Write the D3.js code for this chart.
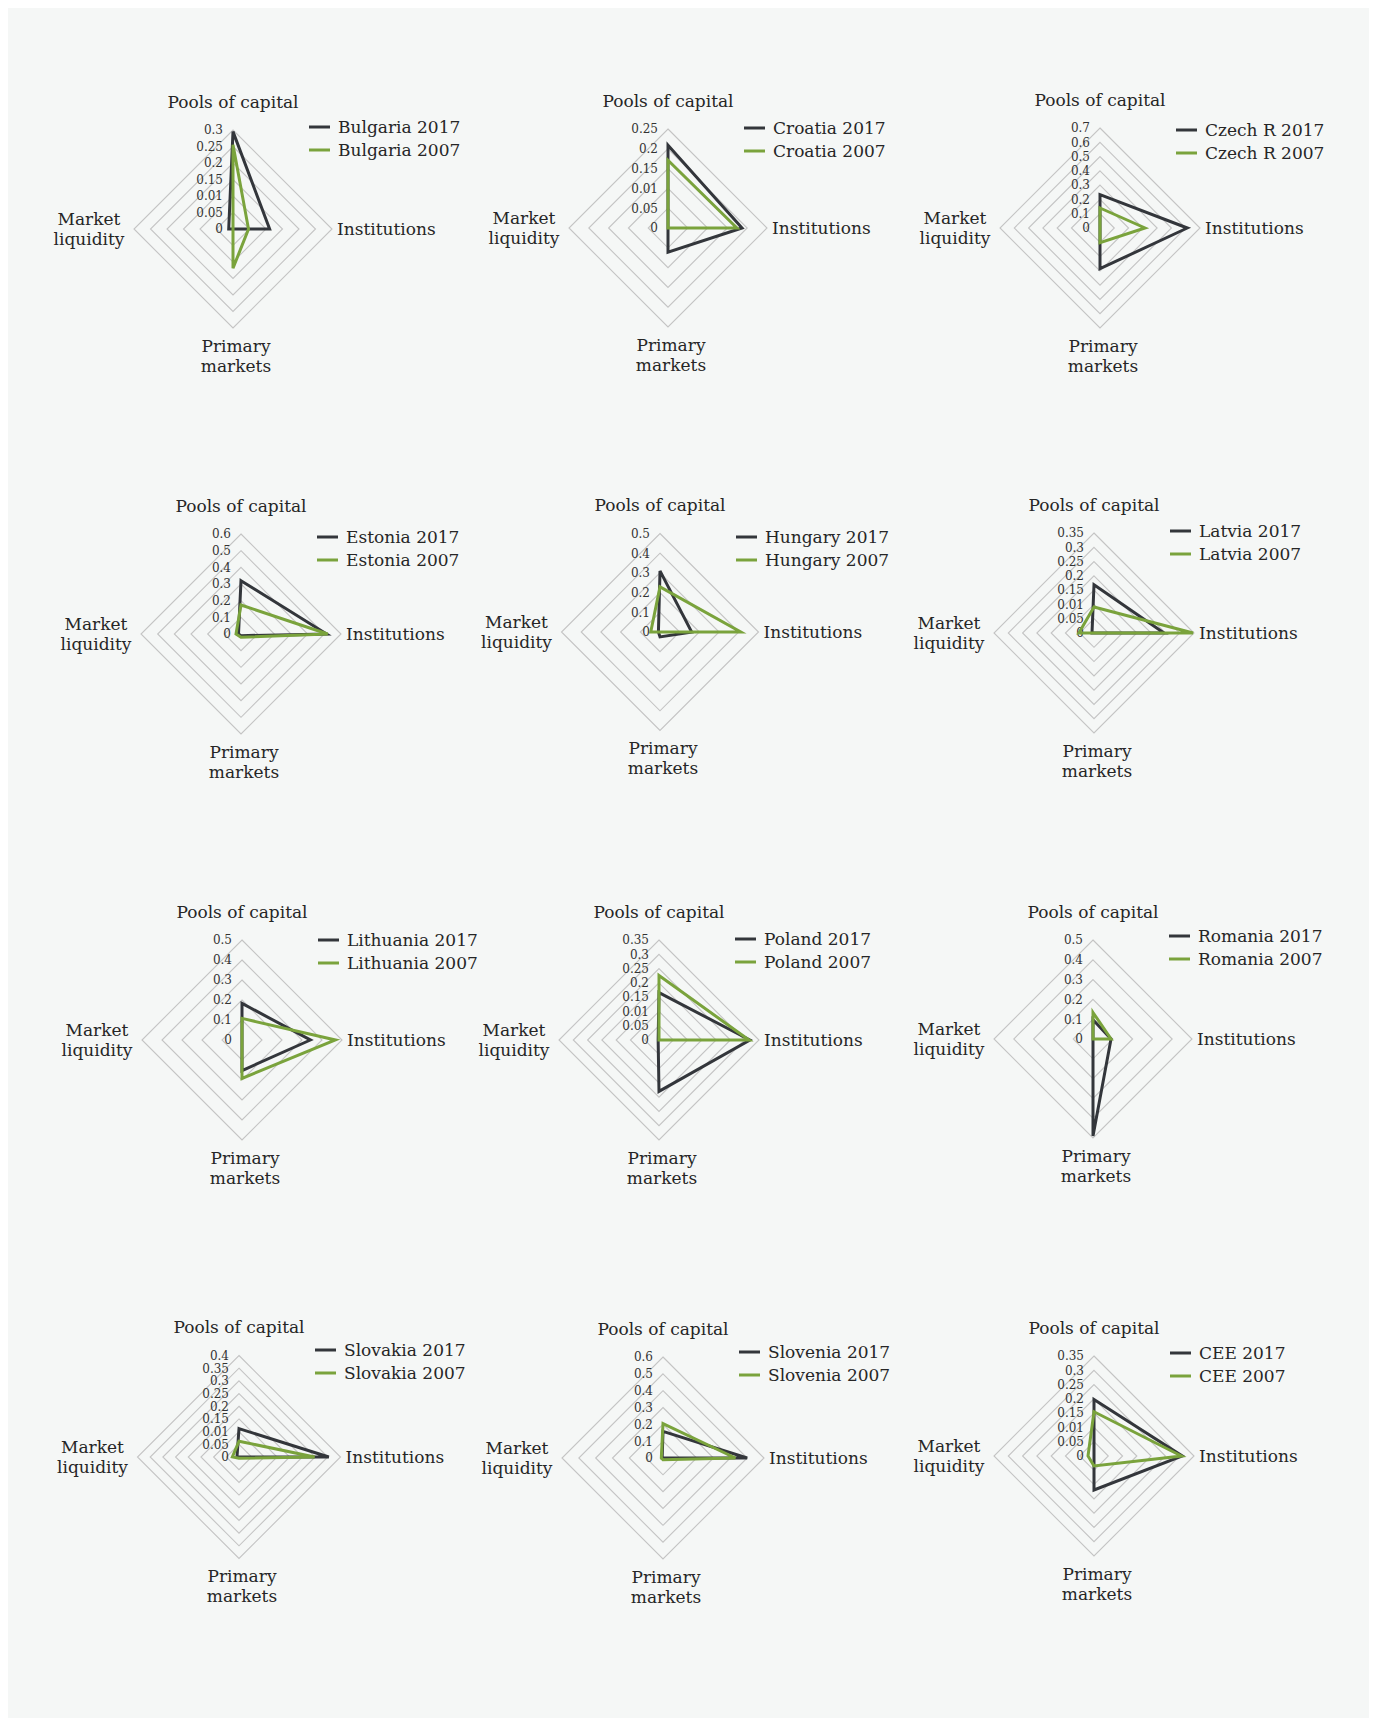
<!DOCTYPE html>
<html>
<head>
<meta charset="utf-8">
<script src="https://cdn.jsdelivr.net/npm/d3@7"></script>
<style>
  html, body { margin: 0; padding: 0; background: #ffffff; }
  svg { display: block; }
</style>
</head>
<body>
<script>
// ---------------- DATA ----------------
const categories = ["Pools of capital", "Institutions", "Primary markets", "Market liquidity"];
const countries = ["Bulgaria", "Croatia", "Czech R", "Estonia", "Hungary", "Latvia",
                   "Lithuania", "Poland", "Romania", "Slovakia", "Slovenia", "CEE"];
const seriesYears = ["2017", "2007"];

// values per country, in category order: Pools, Institutions, Primary, Market liquidity
const values2017 = [
  [0.295, 0.111, 0.000, 0.013],
  [0.209, 0.187, 0.061, 0.000],
  [0.233, 0.611, 0.285, 0.000],
  [0.320, 0.514, 0.010, 0.015],
  [0.310, 0.161, 0.025, 0.008],
  [0.169, 0.245, 0.000, 0.007],
  [0.183, 0.342, 0.153, 0.000],
  [0.166, 0.318, 0.180, 0.003],
  [0.097, 0.091, 0.490, 0.000],
  [0.112, 0.354, 0.000, 0.008],
  [0.158, 0.500, 0.000, 0.005],
  [0.198, 0.309, 0.119, 0.000]
];
const values2007 = [
  [0.255, 0.047, 0.119, 0.000],
  [0.171, 0.174, 0.000, 0.000],
  [0.140, 0.315, 0.103, 0.000],
  [0.174, 0.520, 0.020, 0.030],
  [0.229, 0.410, 0.000, 0.047],
  [0.091, 0.347, 0.000, 0.053],
  [0.108, 0.467, 0.192, 0.000],
  [0.226, 0.315, 0.000, 0.000],
  [0.134, 0.091, 0.000, 0.000],
  [0.062, 0.298, 0.005, 0.026],
  [0.204, 0.430, 0.010, 0.010],
  [0.155, 0.306, 0.035, 0.021]
];
const axisMax = [0.3, 0.25, 0.7, 0.6, 0.5, 0.35, 0.5, 0.35, 0.5, 0.4, 0.6, 0.35];
const tickLabels = [
  ["0", "0.05", "0.01", "0.15", "0.2", "0.25", "0.3"],
  ["0", "0.05", "0.01", "0.15", "0.2", "0.25"],
  ["0", "0.1", "0.2", "0.3", "0.4", "0.5", "0.6", "0.7"],
  ["0", "0.1", "0.2", "0.3", "0.4", "0.5", "0.6"],
  ["0", "0.1", "0.2", "0.3", "0.4", "0.5"],
  ["0", "0.05", "0.01", "0.15", "0.2", "0.25", "0.3", "0.35"],
  ["0", "0.1", "0.2", "0.3", "0.4", "0.5"],
  ["0", "0.05", "0.01", "0.15", "0.2", "0.25", "0.3", "0.35"],
  ["0", "0.1", "0.2", "0.3", "0.4", "0.5"],
  ["0", "0.05", "0.01", "0.15", "0.2", "0.25", "0.3", "0.35", "0.4"],
  ["0", "0.1", "0.2", "0.3", "0.4", "0.5", "0.6"],
  ["0", "0.05", "0.01", "0.15", "0.2", "0.25", "0.3", "0.35"]
];

// ---------------- LAYOUT ----------------
const W = 1377, H = 1726;
const panelCX = [233, 668, 1100, 241, 660, 1094, 242, 659, 1093, 239, 663, 1094];
const panelCY = [229, 228, 228, 634, 632, 633, 1040, 1040, 1039, 1457, 1458, 1456];
const panelR  = [99, 99, 100, 100, 98.5, 100, 100, 100, 99, 101.5, 101, 100];
const legendDY = [-102, -100, -98, -97, -95, -102, -100, -101, -103, -107, -106, -103];
const colors = { "2017": "#33363b", "2007": "#7aa33c" };
const FONT = "'DejaVu Serif', serif";
const textColor = "#262626";

const svg = d3.select("body").append("svg")
  .attr("width", W).attr("height", H);

svg.append("rect")
  .attr("x", 8).attr("y", 8).attr("width", 1361).attr("height", 1710)
  .attr("fill", "#f5f7f6");

countries.forEach((country, i) => {
  const cx = panelCX[i], cy = panelCY[i], R = panelR[i];
  const maxV = axisMax[i];
  const ticks = tickLabels[i];
  const nRings = ticks.length - 1;
  const r = d3.scaleLinear().domain([0, maxV]).range([0, R]);
  const angle = d3.scalePoint().domain(categories).range([0, 2 * Math.PI * 3 / 4]);
  const g = svg.append("g").attr("transform", `translate(${cx},${cy})`);

  const line = d3.lineRadial()
    .angle(d => angle(d.cat))
    .radius(d => r(d.v))
    .curve(d3.curveLinearClosed);

  // rings
  const ringVals = d3.range(1, nRings + 1).map(k => k * maxV / nRings);
  g.selectAll("path.ring").data(ringVals).enter().append("path")
    .attr("class", "ring")
    .attr("d", v => line(categories.map(c => ({ cat: c, v }))))
    .attr("fill", "none")
    .attr("stroke", "#c4c4c4")
    .attr("stroke-width", 1.1);

  // tick labels
  g.selectAll("text.tick").data(ticks).enter().append("text")
    .attr("class", "tick")
    .attr("x", -10)
    .attr("y", (d, k) => -r(k * maxV / nRings))
    .attr("dy", "0.36em")
    .attr("text-anchor", "end")
    .attr("font-family", FONT)
    .attr("font-size", 12)
    .attr("fill", "#333")
    .text(d => d);

  // series
  const seriesData = [values2017[i], values2007[i]];
  seriesYears.forEach((yr, s) => {
    g.append("path")
      .attr("d", line(categories.map((c, k) => ({ cat: c, v: seriesData[s][k] }))))
      .attr("fill", "none")
      .attr("stroke", colors[yr])
      .attr("stroke-width", 3);
  });

  // axis labels
  const lbl = (x, y, lines, anchor) => {
    const t = g.append("text")
      .attr("font-family", FONT).attr("font-size", 17)
      .attr("fill", textColor).attr("text-anchor", anchor);
    lines.forEach((ln, k) => {
      t.append("tspan").attr("x", x).attr("y", y + k * 20).attr("dy", "0.35em").text(ln);
    });
  };
  lbl(0, -R - 28, ["Pools of capital"], "middle");
  lbl(R + 5, 0, ["Institutions"], "start");
  lbl(3, R + 18, ["Primary", "markets"], "middle");
  lbl(-R - 45, -10, ["Market", "liquidity"], "middle");

  // legend
  seriesYears.forEach((yr, s) => {
    const y = legendDY[i] + s * 23;
    g.append("line")
      .attr("x1", 76).attr("x2", 97).attr("y1", y).attr("y2", y)
      .attr("stroke", colors[yr]).attr("stroke-width", 3);
    g.append("text")
      .attr("x", 105).attr("y", y).attr("dy", "0.35em")
      .attr("font-family", FONT).attr("font-size", 17)
      .attr("fill", textColor)
      .text(country + " " + yr);
  });
});
</script>
</body>
</html>
